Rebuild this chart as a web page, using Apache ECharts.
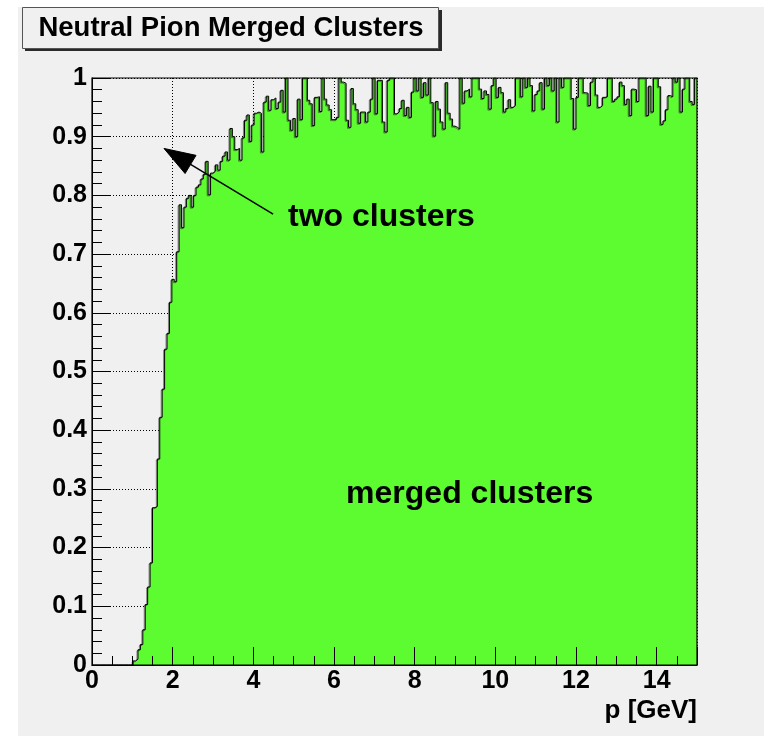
<!DOCTYPE html>
<html>
<head>
<meta charset="utf-8">
<script src="https://cdn.jsdelivr.net/npm/echarts@6/dist/echarts.min.js"></script>
<style>
  html, body { margin: 0; padding: 0; background: #ffffff; }
  #chart { width: 764px; height: 736px; }
</style>
</head>
<body>
<div id="chart"></div>
<script>
// Momentum range and binning of the histogram (250 bins of 60 MeV)
const pMin = 0;
const pMax = 15;
const binWidth = 0.06;

// Fraction of neutral pions reconstructed as one merged cluster, per momentum bin
const mergedFraction = [
  0, 0, 0, 0, 0, 0, 0, 0, 0, 0,
  0, 0, 0, 0, 0, 0, 0, 0.007, 0.010, 0.026,
  0.035, 0.060, 0.103, 0.133, 0.174, 0.268, 0.270, 0.351, 0.422, 0.470,
  0.538, 0.565, 0.618, 0.657, 0.653, 0.704, 0.784, 0.745, 0.780, 0.795,
  0.800, 0.780, 0.800, 0.814, 0.818, 0.828, 0.836, 0.858, 0.801, 0.838,
  0.841, 0.852, 0.843, 0.858, 0.867, 0.874, 0.860, 0.914, 0.900, 0.878,
  0.880, 0.860, 0.898, 0.928, 0.937, 0.892, 0.920, 0.940, 0.942, 0.940,
  0.874, 0.959, 0.969, 0.945, 0.963, 0.966, 0.948, 0.959, 0.979, 0.942,
  1.000, 0.928, 0.911, 0.931, 0.900, 0.964, 0.929, 1.000, 1.000, 0.962,
  0.956, 0.919, 0.967, 0.968, 0.943, 1.000, 0.964, 0.954, 0.946, 0.929,
  0.929, 0.933, 1.000, 0.993, 0.991, 0.928, 0.916, 0.982, 0.956, 0.946,
  0.923, 0.942, 0.942, 0.925, 0.942, 0.964, 1.000, 0.939, 0.996, 0.996,
  0.925, 0.908, 0.996, 1.000, 1.000, 0.939, 0.942, 0.948, 0.962, 0.936,
  0.950, 0.933, 0.976, 1.000, 0.978, 1.000, 0.967, 0.992, 0.971, 1.000,
  0.958, 0.901, 0.960, 0.947, 0.925, 0.913, 0.992, 0.940, 0.930, 0.918,
  0.916, 0.913, 1.000, 0.957, 0.978, 0.981, 0.968, 1.000, 1.000, 1.000,
  0.981, 0.965, 0.978, 0.972, 0.947, 0.987, 1.000, 0.967, 0.984, 0.975,
  0.942, 0.948, 0.963, 0.950, 0.953, 1.000, 1.000, 0.968, 1.000, 0.984,
  1.000, 0.987, 0.944, 0.972, 0.978, 0.992, 0.947, 1.000, 0.987, 1.000,
  0.978, 1.000, 0.925, 1.000, 0.984, 1.000, 1.000, 1.000, 0.965, 0.913,
  0.967, 1.000, 1.000, 0.975, 0.974, 0.953, 0.993, 1.000, 0.971, 0.950,
  0.953, 0.967, 0.968, 1.000, 1.000, 0.960, 0.964, 0.968, 0.993, 0.987,
  0.955, 0.964, 0.936, 0.981, 0.980, 0.960, 1.000, 1.000, 1.000, 0.936,
  0.986, 0.942, 1.000, 1.000, 0.985, 0.921, 0.927, 0.946, 0.970, 0.968,
  1.000, 0.993, 1.000, 0.942, 0.981, 1.000, 1.000, 0.960, 0.955, 1.000
];

// Axis tick labels
const xTickLabels = ['0', '2', '4', '6', '8', '10', '12', '14'];
const yTickLabels = ['0', '0.1', '0.2', '0.3', '0.4', '0.5', '0.6', '0.7', '0.8', '0.9', '1'];

// Texts
const titleText = 'Neutral Pion Merged Clusters';
const xAxisTitle = 'p [GeV]';
const noteTwo = 'two clusters';
const noteMerged = 'merged clusters';

// Annotation anchors in data units (p, fraction)
const arrowTip = [1.785, 0.880];
const arrowTail = [4.49, 0.768];
const noteTwoAt = [4.86, 0.763];
const noteMergedAt = [6.30, 0.291];

const FONT = '"Liberation Sans", Arial, Helvetica, sans-serif';
const PAD = '#f0f0f0';
const FILL = '#5cfc30';
const GRID = { left: 92, top: 78, width: 605, height: 587 };

const chart = echarts.init(document.getElementById('chart'), null, { renderer: 'canvas' });

// Step outline: each point is a bin's lower edge; the last bin is closed at pMax
const stepData = mergedFraction.map((v, i) => [Math.round(i * binWidth * 1000) / 1000, v]);
stepData.push([pMax, mergedFraction[mergedFraction.length - 1]]);

function pick(list) {
  return function (value) {
    const s = String(Math.round(value * 1000) / 1000);
    return list.indexOf(s) >= 0 ? s : '';
  };
}

const tickLabelStyle = {
  color: '#000', fontFamily: FONT, fontWeight: 'bold', fontSize: 25
};

chart.setOption({
  backgroundColor: PAD,
  animation: false,
  grid: Object.assign({ show: false, containLabel: false }, GRID),
  xAxis: [
    { // dotted grid, behind the histogram
      type: 'value', min: pMin, max: pMax, interval: 2, z: 0,
      axisLine: { show: false }, axisTick: { show: false }, axisLabel: { show: false },
      splitLine: { show: true, lineStyle: { color: '#000', width: 1, type: [1, 2] } }
    },
    { // minor ticks every 0.5 GeV
      type: 'value', min: pMin, max: pMax, interval: 0.5, z: 10, position: 'bottom',
      axisLine: { show: false }, axisLabel: { show: false }, splitLine: { show: false },
      axisTick: { show: true, inside: true, length: 9, lineStyle: { color: '#000', width: 1 } }
    },
    { // major ticks and labels
      type: 'value', min: pMin, max: pMax, interval: 2, z: 10, position: 'bottom',
      axisLine: { show: true, lineStyle: { color: '#000', width: 1 } },
      splitLine: { show: false },
      axisTick: { show: true, inside: true, length: 18, lineStyle: { color: '#000', width: 1 } },
      axisLabel: Object.assign({ show: true, margin: 4, formatter: pick(xTickLabels) }, tickLabelStyle)
    }
  ],
  yAxis: [
    {
      type: 'value', min: 0, max: 1, interval: 0.1, z: 0,
      axisLine: { show: false }, axisTick: { show: false }, axisLabel: { show: false },
      splitLine: { show: true, lineStyle: { color: '#000', width: 1, type: [1, 2] } }
    },
    {
      type: 'value', min: 0, max: 1, interval: 0.02, z: 10, position: 'left',
      axisLine: { show: false }, axisLabel: { show: false }, splitLine: { show: false },
      axisTick: { show: true, inside: true, length: 10, lineStyle: { color: '#000', width: 1 } }
    },
    {
      type: 'value', min: 0, max: 1, interval: 0.1, z: 10, position: 'left',
      axisLine: { show: true, lineStyle: { color: '#000', width: 1 } },
      splitLine: { show: false },
      axisTick: { show: true, inside: true, length: 18, lineStyle: { color: '#000', width: 1 } },
      axisLabel: Object.assign({ show: true, margin: 5, formatter: pick(yTickLabels) }, tickLabelStyle)
    }
  ],
  series: [{
    type: 'line',
    xAxisIndex: 0,
    yAxisIndex: 0,
    data: stepData,
    step: 'end',
    showSymbol: false,
    symbol: 'none',
    z: 3,
    lineStyle: {
      color: '#000', width: 1,
      shadowColor: 'rgba(40,40,40,0.55)', shadowBlur: 0, shadowOffsetX: -1, shadowOffsetY: 1
    },
    areaStyle: { color: FILL, opacity: 1, origin: 'start' }
  }]
});

// Annotations placed through the data-to-pixel mapping of the grid
const toPx = (pt) => chart.convertToPixel({ gridIndex: 0 }, pt);
const tip = toPx(arrowTip);
const tail = toPx(arrowTail);
const dx = tail[0] - tip[0], dy = tail[1] - tip[1];
const len = Math.sqrt(dx * dx + dy * dy);
const ux = dx / len, uy = dy / len;
const headLen = 31, headHalf = 10.6;
const base = [tip[0] + ux * headLen, tip[1] + uy * headLen];
const wingA = [base[0] - uy * headHalf, base[1] + ux * headHalf];
const wingB = [base[0] + uy * headHalf, base[1] - ux * headHalf];
const twoPx = toPx(noteTwoAt);
const mergedPx = toPx(noteMergedAt);

chart.setOption({
  graphic: [
    // white margin around the pad
    { type: 'rect', z: 200, shape: { x: 0, y: 0, width: 18, height: 736 }, style: { fill: '#fff' }, silent: true },
    { type: 'rect', z: 200, shape: { x: 0, y: 0, width: 764, height: 7 }, style: { fill: '#fff' }, silent: true },
    // frame around the plotting area
    {
      type: 'rect', z: 150, silent: true,
      shape: { x: GRID.left, y: GRID.top, width: GRID.width, height: GRID.height },
      style: { fill: 'none', stroke: '#000', lineWidth: 1.2 }
    },
    // title box with shadow
    {
      type: 'rect', z: 160, silent: true,
      shape: { x: 25, y: 10, width: 417, height: 41 },
      style: { fill: '#2a2a2a' }
    },
    {
      type: 'rect', z: 161, silent: true,
      shape: { x: 22.5, y: 7.5, width: 416, height: 41 },
      style: { fill: PAD, stroke: '#555', lineWidth: 1 }
    },
    {
      type: 'text', z: 162, silent: true,
      style: {
        text: titleText, x: 231, y: 28, align: 'center', verticalAlign: 'middle',
        fill: '#000', font: 'bold 27.5px ' + FONT
      }
    },
    // x-axis title
    {
      type: 'text', z: 162, silent: true,
      style: {
        text: xAxisTitle, x: GRID.left + GRID.width, y: 711, align: 'right', verticalAlign: 'middle',
        fill: '#000', font: 'bold 26px ' + FONT
      }
    },
    // arrow pointing at the two-cluster region
    {
      type: 'line', z: 170, silent: true,
      shape: { x1: tail[0], y1: tail[1], x2: base[0], y2: base[1] },
      style: { stroke: '#000', lineWidth: 1.5 }
    },
    {
      type: 'polygon', z: 171, silent: true,
      shape: { points: [tip, wingA, wingB] },
      style: { fill: '#000', stroke: '#000', lineWidth: 1 }
    },
    {
      type: 'text', z: 172, silent: true,
      style: {
        text: noteTwo, x: twoPx[0], y: twoPx[1], align: 'left', verticalAlign: 'middle',
        fill: '#000', font: 'bold 32px ' + FONT
      }
    },
    {
      type: 'text', z: 172, silent: true,
      style: {
        text: noteMerged, x: mergedPx[0], y: mergedPx[1], align: 'left', verticalAlign: 'middle',
        fill: '#000', font: 'bold 32px ' + FONT
      }
    }
  ]
});
</script>
</body>
</html>
